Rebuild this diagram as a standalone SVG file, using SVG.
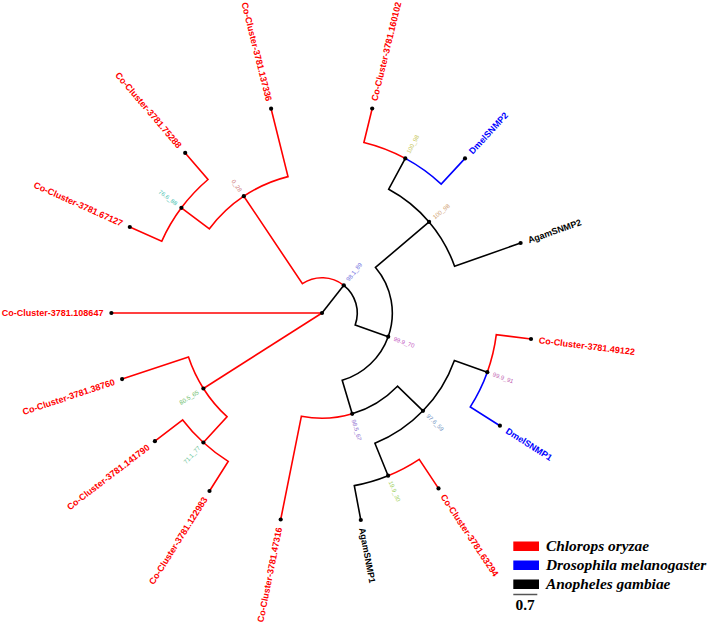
<svg xmlns="http://www.w3.org/2000/svg" width="709" height="624" viewBox="0 0 709 624">
<style>
.b{fill:none;stroke-width:1.6;stroke-linejoin:miter}
.r{stroke:#ff0000}.u{stroke:#0000ff}.k{stroke:#000}
.lf{font-family:"Liberation Sans",Arial,sans-serif;font-size:9px;font-weight:bold}
.lr{fill:#ff0000}.lu{fill:#0000ff}.lk{fill:#000}
.bs{font-family:"Liberation Sans",Arial,sans-serif;font-size:6px}
.lg{font-family:"Liberation Serif","Times New Roman",serif;font-size:15.4px;font-weight:bold;font-style:italic;fill:#000}
</style>
<rect width="709" height="624" fill="#fff"/>
<g id="connectors">
<path class="b k" d="M322,313 L343.8,285.3"/>
<path class="b r" d="M322,313 L111.4,313"/>
<path class="b r" d="M322,313 L203.4,388.5"/>
<path class="b r" d="M343.8,285.3 A35.3,35.3 0 0 0 302.4,283.7 L243.8,196.2"/>
<path class="b k" d="M343.8,285.3 A35.3,35.3 0 0 1 355.2,324.9 L388.2,336.7"/>
<path class="b k" d="M388.2,336.7 A70.3,70.3 0 0 0 375.5,267.4 L429.1,221.9"/>
<path class="b k" d="M388.2,336.7 A70.3,70.3 0 0 1 342.2,380.3 L352.2,413.8"/>
<path class="b k" d="M429.1,221.9 A140.6,140.6 0 0 0 388.7,189.2 L405.3,158.4"/>
<path class="b k" d="M429.1,221.9 A140.6,140.6 0 0 1 454.6,266.3 L520.6,243.0"/>
<path class="b r" d="M405.3,158.4 A175.6,175.6 0 0 0 363.9,142.5 L372.2,108.5"/>
<path class="b u" d="M405.3,158.4 A175.6,175.6 0 0 1 441.2,184.1 L465.0,158.4"/>
<path class="b k" d="M352.2,413.8 A105.2,105.2 0 0 0 397.5,386.2 L423.0,410.8"/>
<path class="b r" d="M352.2,413.8 A105.2,105.2 0 0 1 301.4,416.2 L280.7,519.5"/>
<path class="b k" d="M423.0,410.8 A140.6,140.6 0 0 0 454.4,360.4 L487.3,372.2"/>
<path class="b k" d="M423.0,410.8 A140.6,140.6 0 0 1 374.9,443.3 L388.1,475.7"/>
<path class="b r" d="M487.3,372.2 A175.6,175.6 0 0 0 496.3,334.7 L531.0,339.0"/>
<path class="b u" d="M487.3,372.2 A175.6,175.6 0 0 1 470.3,406.9 L499.9,425.7"/>
<path class="b r" d="M388.1,475.7 A175.6,175.6 0 0 0 419.2,459.3 L438.5,488.4"/>
<path class="b k" d="M388.1,475.7 A175.6,175.6 0 0 1 354.3,485.6 L360.8,520.0"/>
<path class="b r" d="M243.8,196.2 A140.6,140.6 0 0 0 209.4,228.8 L181.4,207.8"/>
<path class="b r" d="M243.8,196.2 A140.6,140.6 0 0 1 288.0,176.6 L271.1,108.7"/>
<path class="b r" d="M181.4,207.8 A175.6,175.6 0 0 0 161.7,241.3 L129.8,227.0"/>
<path class="b r" d="M181.4,207.8 A175.6,175.6 0 0 1 208.0,179.5 L185.2,152.9"/>
<path class="b r" d="M203.4,388.5 A140.6,140.6 0 0 1 188.5,357.1 L122.1,379.1"/>
<path class="b r" d="M203.4,388.5 A140.6,140.6 0 0 0 227.0,416.7 L203.4,442.5"/>
<path class="b r" d="M203.4,442.5 A175.6,175.6 0 0 1 182.7,419.9 L154.9,441.2"/>
<path class="b r" d="M203.4,442.5 A175.6,175.6 0 0 0 228.2,461.4 L209.5,491.0"/>
</g>
<g id="n-root"><circle cx="322" cy="313" r="2.1"/></g>
<g id="n-A"><circle cx="343.8" cy="285.3" r="2.1"/><text class="bs" fill="#7070e0" transform="translate(343.8,285.3) rotate(-51.8)" x="6" y="2">98.1_89</text></g>
<g id="n-C"><circle cx="243.8" cy="196.2" r="2.1"/><text class="bs" fill="#d08080" text-anchor="end" transform="translate(243.8,196.2) rotate(56.2)" x="-6" y="2">0_28</text></g>
<g id="n-K"><circle cx="181.4" cy="207.8" r="2.1"/><text class="bs" fill="#40c0b0" text-anchor="end" transform="translate(181.4,207.8) rotate(36.8)" x="-6" y="2">76.6_88</text></g>
<g id="n-D"><circle cx="388.2" cy="336.7" r="2.1"/><text class="bs" fill="#c050c0" transform="translate(388.2,336.7) rotate(19.7)" x="6" y="2">99.9_70</text></g>
<g id="n-E"><circle cx="429.1" cy="221.9" r="2.1"/><text class="bs" fill="#d0a070" transform="translate(429.1,221.9) rotate(-40.4)" x="6" y="2">100_98</text></g>
<g id="n-G"><circle cx="405.3" cy="158.4" r="2.1"/><text class="bs" fill="#c8c860" transform="translate(405.3,158.4) rotate(-61.7)" x="6" y="2">100_98</text></g>
<g id="n-F"><circle cx="352.2" cy="413.8" r="2.1"/><text class="bs" fill="#9070d0" transform="translate(352.2,413.8) rotate(73.3)" x="6" y="2.5">98.5_67</text></g>
<g id="n-H"><circle cx="423.0" cy="410.8" r="2.1"/><text class="bs" fill="#7090c0" transform="translate(423.0,410.8) rotate(44.1)" x="6" y="2">97.6_59</text></g>
<g id="n-I"><circle cx="487.3" cy="372.2" r="2.1"/><text class="bs" fill="#c060b0" transform="translate(487.3,372.2) rotate(19.7)" x="6" y="2">99.9_91</text></g>
<g id="n-J"><circle cx="388.1" cy="475.7" r="2.1"/><text class="bs" fill="#a0d060" transform="translate(388.1,475.7) rotate(67.9)" x="6" y="2">19.9_30</text></g>
<g id="n-B"><circle cx="203.4" cy="388.5" r="2.1"/><text class="bs" fill="#70c070" text-anchor="end" transform="translate(203.4,388.5) rotate(-32.5)" x="-6" y="2">80.5_65</text></g>
<g id="n-L"><circle cx="203.4" cy="442.5" r="2.1"/><text class="bs" fill="#60c090" text-anchor="end" transform="translate(203.4,442.5) rotate(-47.5)" x="-6" y="2">71.1_77</text></g>
<g id="leaf-108647"><circle cx="111.4" cy="313" r="2.1"/><text class="lf lr" text-anchor="end" transform="translate(111.4,313) rotate(0)" x="-8" y="3.2">Co-Cluster-3781.108647</text></g>
<g id="leaf-67127"><circle cx="129.8" cy="227.0" r="2.1"/><text class="lf lr" text-anchor="end" transform="translate(129.8,227.0) rotate(24.1)" x="-8" y="3.2">Co-Cluster-3781.67127</text></g>
<g id="leaf-75288"><circle cx="185.2" cy="152.9" r="2.1"/><text class="lf lr" text-anchor="end" transform="translate(185.2,152.9) rotate(49.5)" x="-8" y="3.2">Co-Cluster-3781.75288</text></g>
<g id="leaf-137336"><circle cx="271.1" cy="108.7" r="2.1"/><text class="lf lr" text-anchor="end" transform="translate(271.1,108.7) rotate(76)" x="-8" y="3.2">Co-Cluster-3781.137336</text></g>
<g id="leaf-160102"><circle cx="372.2" cy="108.5" r="2.1"/><text class="lf lr" transform="translate(372.2,108.5) rotate(-76.2)" x="8" y="3.2">Co-Cluster-3781.160102</text></g>
<g id="leaf-DmelSNMP2"><circle cx="465.0" cy="158.4" r="2.1"/><text class="lf lu" transform="translate(465.0,158.4) rotate(-47.25)" x="8" y="3.2">DmelSNMP2</text></g>
<g id="leaf-AgamSNMP2"><circle cx="520.6" cy="243.0" r="2.1"/><text class="lf lk" transform="translate(520.6,243.0) rotate(-19.4)" x="8" y="3.2">AgamSNMP2</text></g>
<g id="leaf-49122"><circle cx="531.0" cy="339.0" r="2.1"/><text class="lf lr" transform="translate(531.0,339.0) rotate(7.1)" x="8" y="3.2">Co-Cluster-3781.49122</text></g>
<g id="leaf-DmelSNMP1"><circle cx="499.9" cy="425.7" r="2.1"/><text class="lf lu" transform="translate(499.9,425.7) rotate(32.35)" x="8" y="3.2">DmelSNMP1</text></g>
<g id="leaf-63294"><circle cx="438.5" cy="488.4" r="2.1"/><text class="lf lr" transform="translate(438.5,488.4) rotate(56.4)" x="8" y="3.2">Co-Cluster-3781.63294</text></g>
<g id="leaf-AgamSNMP1"><circle cx="360.8" cy="520.0" r="2.1"/><text class="lf lk" transform="translate(360.8,520.0) rotate(79.4)" x="8" y="3.2">AgamSNMP1</text></g>
<g id="leaf-47316"><circle cx="280.7" cy="519.5" r="2.1"/><text class="lf lr" text-anchor="end" transform="translate(280.7,519.5) rotate(-78.7)" x="-8" y="3.2">Co-Cluster-3781.47316</text></g>
<g id="leaf-122983"><circle cx="209.5" cy="491.0" r="2.1"/><text class="lf lr" text-anchor="end" transform="translate(209.5,491.0) rotate(-57.7)" x="-8" y="3.2">Co-Cluster-3781.122983</text></g>
<g id="leaf-141790"><circle cx="154.9" cy="441.2" r="2.1"/><text class="lf lr" text-anchor="end" transform="translate(154.9,441.2) rotate(-37.5)" x="-8" y="3.2">Co-Cluster-3781.141790</text></g>
<g id="leaf-38760"><circle cx="122.1" cy="379.1" r="2.1"/><text class="lf lr" text-anchor="end" transform="translate(122.1,379.1) rotate(-18.3)" x="-8" y="3.2">Co-Cluster-3781.38760</text></g>
<g id="legend">
<rect x="513.3" y="541.5" width="25.7" height="9.5" fill="#ff0000"/>
<rect x="513.3" y="560.5" width="25.7" height="9.5" fill="#0000ff"/>
<rect x="513.3" y="579.5" width="25.7" height="9.5" fill="#000"/>
<text class="lg" x="546" y="550.8">Chlorops oryzae</text>
<text class="lg" x="546" y="569.8">Drosophila melanogaster</text>
<text class="lg" x="546" y="588.8">Anopheles gambiae</text>
<line x1="513.3" y1="594.5" x2="537.3" y2="594.5" stroke="#555" stroke-width="1.5"/>
<text x="515.5" y="610" font-family="'Liberation Serif','Times New Roman',serif" font-size="15.4px" font-weight="bold" fill="#000">0.7</text>
</g>
</svg>
